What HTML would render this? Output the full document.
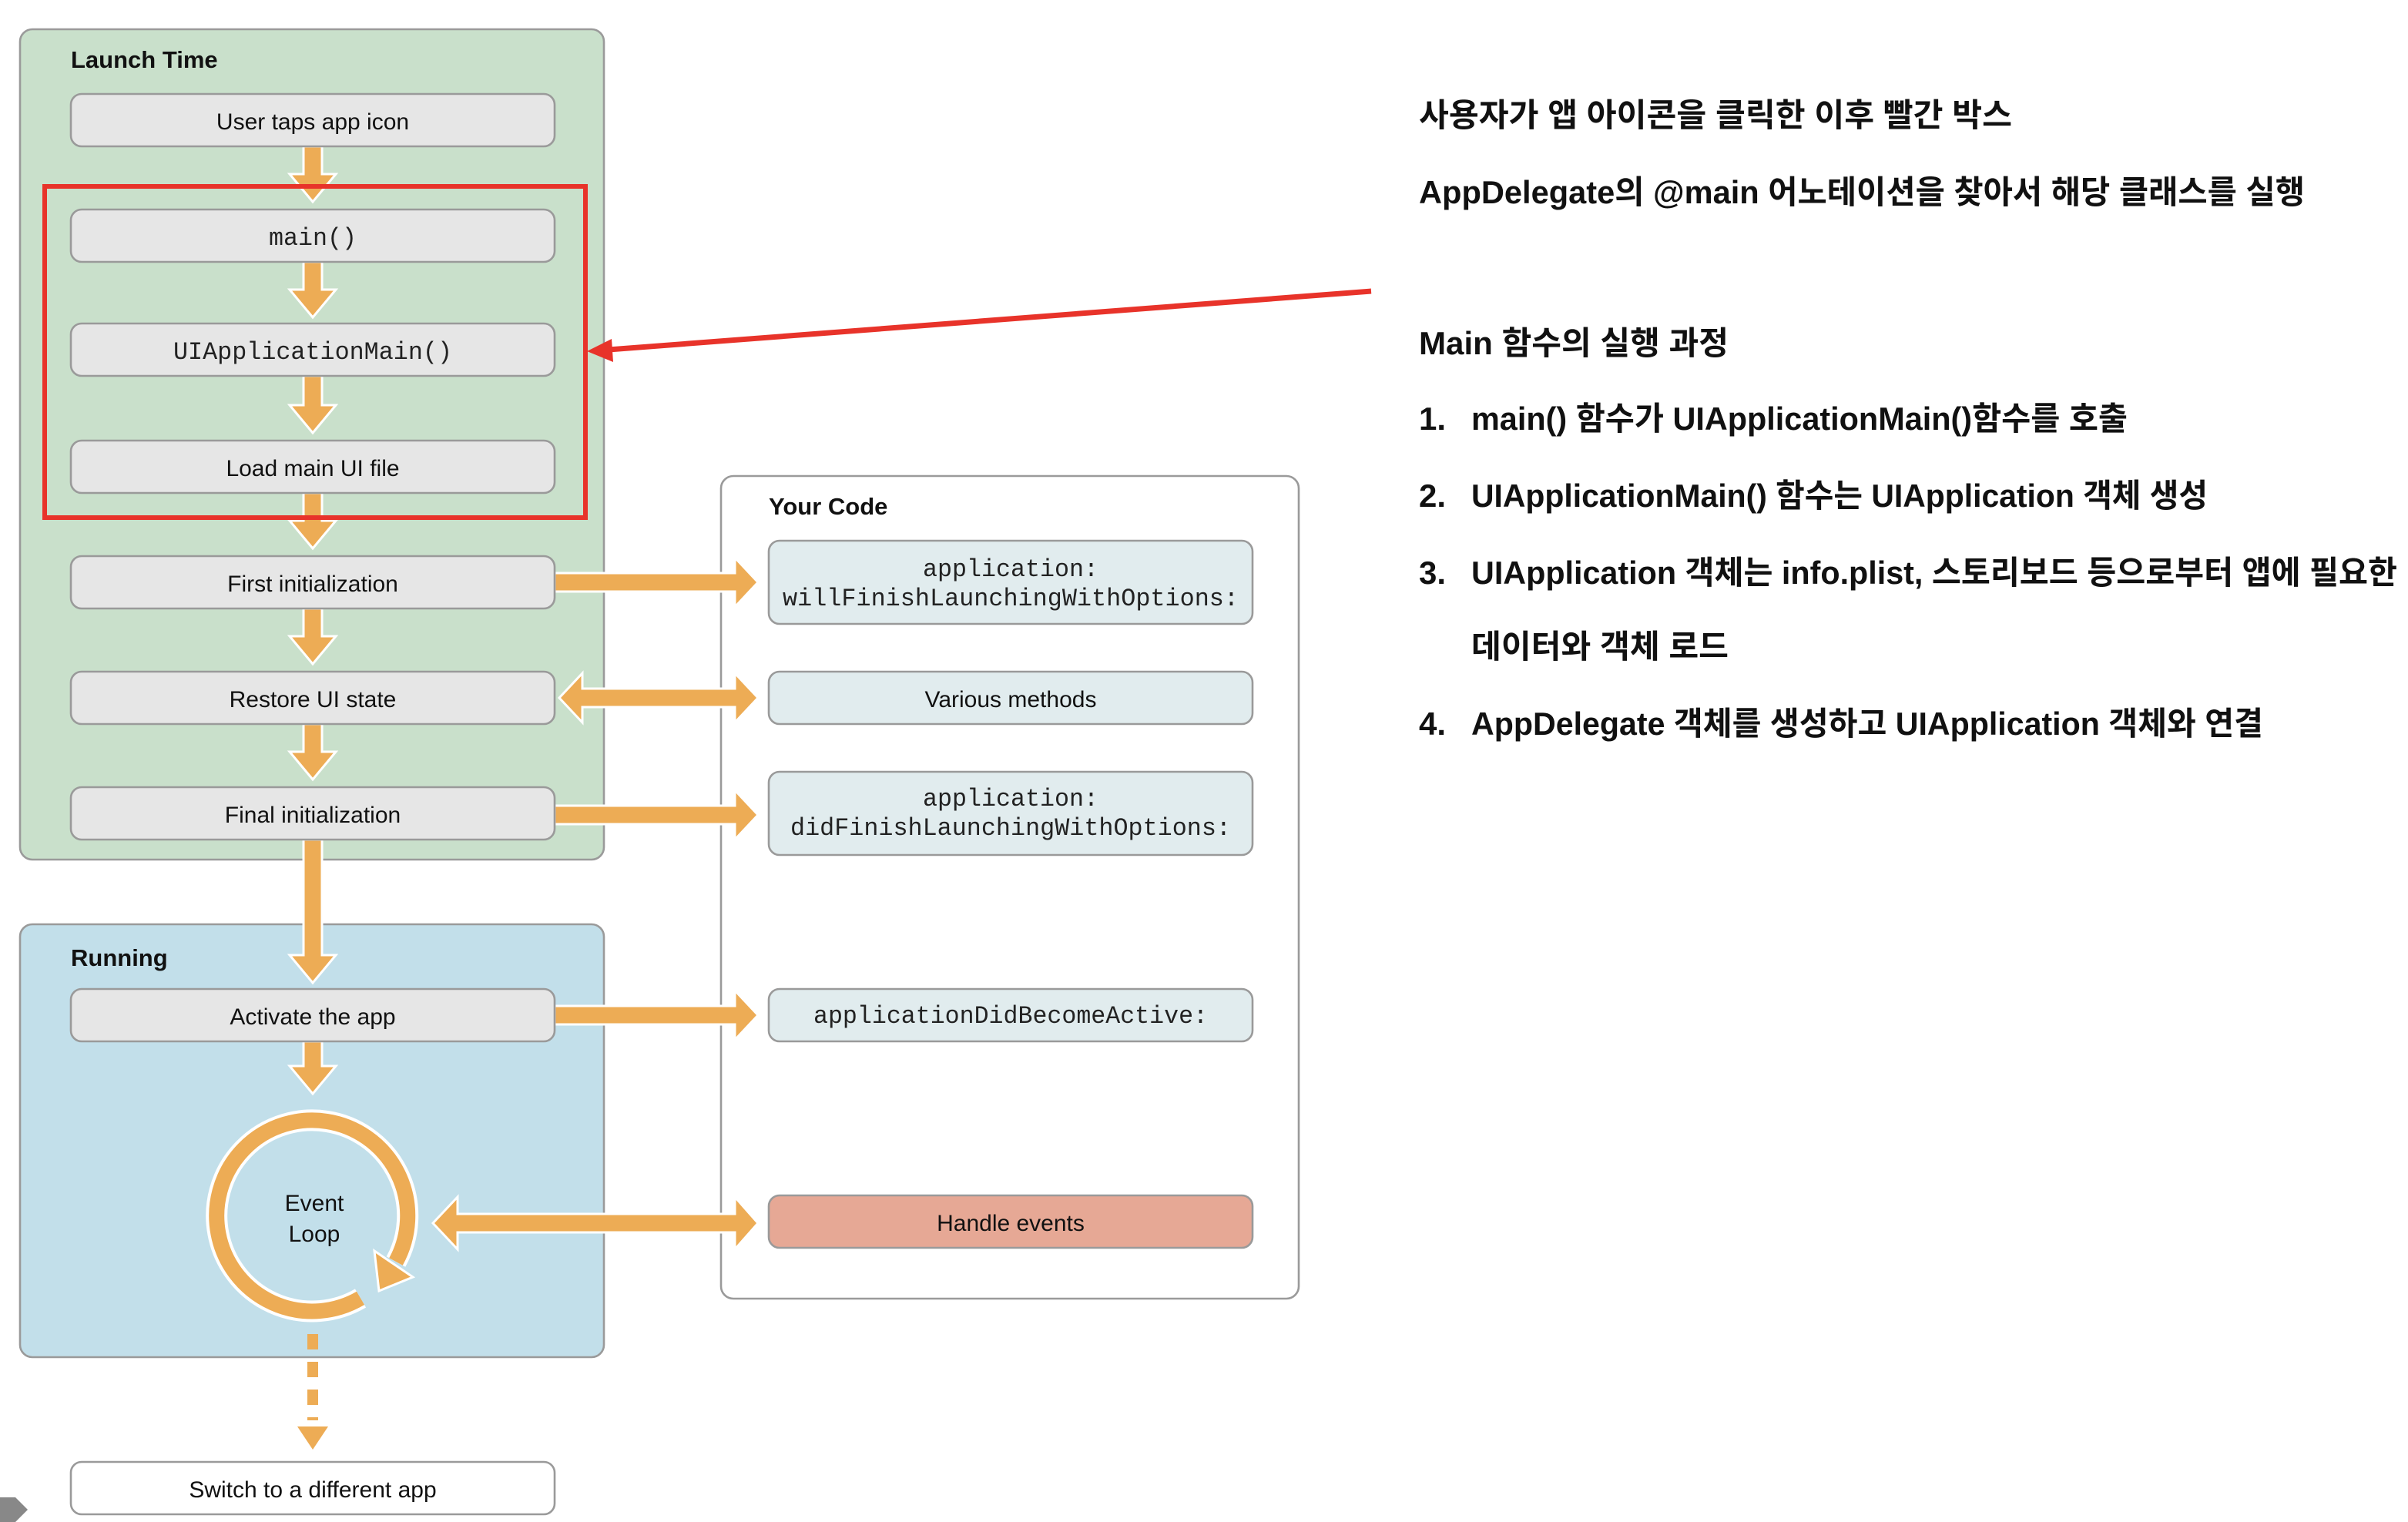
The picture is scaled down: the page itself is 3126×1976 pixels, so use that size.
<!DOCTYPE html>
<html><head><meta charset="utf-8"><style>
html,body{margin:0;padding:0;background:#fff;width:3126px;height:1976px;overflow:hidden}
svg{display:block}
.s{font-family:"Liberation Sans",Arial,sans-serif;font-size:15px;fill:#111}
.b{font-family:"Liberation Sans",Arial,sans-serif;font-size:15.5px;font-weight:bold;fill:#111}
.m{font-family:"Liberation Mono",monospace;font-size:16px;fill:#222}
.k{font-family:"Liberation Sans","Noto Sans CJK KR",sans-serif;font-size:21px;font-weight:bold;fill:#111}
.box{fill:#e6e6e6;stroke:#9a9a9a;stroke-width:1.3}
.cb{fill:#e1ecee;stroke:#9a9a9a;stroke-width:1.3}
.ar{fill:#edac55;stroke:#fff;stroke-width:1.5}
</style></head><body>
<svg width="3126" height="1976" viewBox="0 0 1563 988" xmlns="http://www.w3.org/2000/svg">
<rect x="13" y="19" width="379" height="539" rx="8" fill="#c9e0cb" stroke="#9a9a9a" stroke-width="1.3"/>
<rect x="13" y="600" width="379" height="281" rx="8" fill="#c2dfea" stroke="#9a9a9a" stroke-width="1.3"/>
<rect x="468" y="309" width="375" height="534" rx="8" fill="#fff" stroke="#9a9a9a" stroke-width="1.3"/>
<text class="b" x="46" y="44">Launch Time</text>
<text class="b" x="46" y="627">Running</text>
<text class="b" x="499" y="334">Your Code</text>

<g class="ar">
<polygon points="197,95 209,95 209,113 218,113 203,131 188,113 197,113"/>
<polygon points="197,170 209,170 209,188 218,188 203,206 188,188 197,188"/>
<polygon points="197,244 209,244 209,263 218,263 203,281 188,263 197,263"/>
<polygon points="197,320 209,320 209,338 218,338 203,356 188,338 197,338"/>
<polygon points="197,395 209,395 209,413 218,413 203,431 188,413 197,413"/>
<polygon points="197,470 209,470 209,488 218,488 203,506 188,488 197,488"/>
<polygon points="197,545 209,545 209,620 218,620 203,638 188,620 197,620"/>
<polygon points="197,676 209,676 209,692 218,692 203,710 188,692 197,692"/>
<polygon points="360,372 477,372 477,362 492,378 477,394 477,384 360,384"/>
<polygon points="378,447 477,447 477,437 492,453 477,469 477,459 378,459 378,469 363,453 378,437"/>
<polygon points="360,523 477,523 477,513 492,529 477,545 477,535 360,535"/>
<polygon points="360,653 477,653 477,643 492,659 477,675 477,665 360,665"/>
<polygon points="297,788 477,788 477,777 492,794 477,811 477,800 297,800 297,811 281,794 297,777"/>
</g>
<!-- event loop -->
<path d="M234,842.7 A62,62 0 1 1 257,819" fill="none" stroke="#fff" stroke-width="14"/>
<path d="M234,842.7 A62,62 0 1 1 257,819" fill="none" stroke="#edac55" stroke-width="10"/>
<polygon class="ar" points="246,838 268,829 243,812"/>
<text class="s" x="204" y="786" text-anchor="middle">Event</text>
<text class="s" x="204" y="806" text-anchor="middle">Loop</text>
<line x1="203" y1="866" x2="203" y2="922" stroke="#edac55" stroke-width="7" stroke-dasharray="10,8"/>
<polygon points="193,926 213,926 203,941" fill="#edac55"/>

<rect class="box" x="46" y="61" width="314" height="34" rx="7"/>
<rect class="box" x="46" y="136" width="314" height="34" rx="7"/>
<rect class="box" x="46" y="210" width="314" height="34" rx="7"/>
<rect class="box" x="46" y="286" width="314" height="34" rx="7"/>
<rect class="box" x="46" y="361" width="314" height="34" rx="7"/>
<rect class="box" x="46" y="436" width="314" height="34" rx="7"/>
<rect class="box" x="46" y="511" width="314" height="34" rx="7"/>
<rect class="box" x="46" y="642" width="314" height="34" rx="7"/>
<rect x="46" y="949" width="314" height="34" rx="7" fill="#fff" stroke="#9a9a9a" stroke-width="1.3"/>
<text class="s" x="203" y="84" text-anchor="middle">User taps app icon</text>
<text class="m" x="203" y="159" text-anchor="middle" textLength="57" lengthAdjust="spacingAndGlyphs">main()</text>
<text class="m" x="203" y="233" text-anchor="middle" textLength="181" lengthAdjust="spacingAndGlyphs">UIApplicationMain()</text>
<text class="s" x="203" y="309" text-anchor="middle">Load main UI file</text>
<text class="s" x="203" y="384" text-anchor="middle">First initialization</text>
<text class="s" x="203" y="459" text-anchor="middle">Restore UI state</text>
<text class="s" x="203" y="534" text-anchor="middle">Final initialization</text>
<text class="s" x="203" y="665" text-anchor="middle">Activate the app</text>
<text class="s" x="203" y="972" text-anchor="middle">Switch to a different app</text>

<rect class="cb" x="499" y="351" width="314" height="54" rx="7"/>
<rect class="cb" x="499" y="436" width="314" height="34" rx="7"/>
<rect class="cb" x="499" y="501" width="314" height="54" rx="7"/>
<rect class="cb" x="499" y="642" width="314" height="34" rx="7"/>
<rect x="499" y="776" width="314" height="34" rx="7" fill="#e6a895" stroke="#9a9a9a" stroke-width="1.3"/>
<text class="m" x="656" y="374" text-anchor="middle" textLength="114" lengthAdjust="spacingAndGlyphs">application:</text>
<text class="m" x="656" y="393" text-anchor="middle" textLength="296" lengthAdjust="spacingAndGlyphs">willFinishLaunchingWithOptions:</text>
<text class="s" x="656" y="459" text-anchor="middle">Various methods</text>
<text class="m" x="656" y="523" text-anchor="middle" textLength="114" lengthAdjust="spacingAndGlyphs">application:</text>
<text class="m" x="656" y="542" text-anchor="middle" textLength="286" lengthAdjust="spacingAndGlyphs">didFinishLaunchingWithOptions:</text>
<text class="m" x="656" y="664" text-anchor="middle" textLength="256" lengthAdjust="spacingAndGlyphs">applicationDidBecomeActive:</text>
<text class="s" x="656" y="799" text-anchor="middle">Handle events</text>

<rect x="29" y="121" width="351" height="215" fill="none" stroke="#e8332a" stroke-width="3"/>
<line x1="890" y1="189" x2="395" y2="227" stroke="#e8332a" stroke-width="3.5"/>
<polygon points="381,228 397,220 398,235" fill="#e8332a"/>

<polygon points="0,972 10,972 18,980 10,988 0,988" fill="#888"/>

<text class="k" x="921" y="82" textLength="385" lengthAdjust="spacingAndGlyphs">사용자가 앱 아이콘을 클릭한 이후 빨간 박스</text>
<text class="k" x="921" y="132" textLength="575" lengthAdjust="spacingAndGlyphs">AppDelegate의 @main 어노테이션을 찾아서 해당 클래스를 실행</text>
<text class="k" x="921" y="230" textLength="201" lengthAdjust="spacingAndGlyphs">Main 함수의 실행 과정</text>
<text class="k" x="921" y="279">1.</text>
<text class="k" x="955" y="279" textLength="426" lengthAdjust="spacingAndGlyphs">main() 함수가 UIApplicationMain()함수를 호출</text>
<text class="k" x="921" y="329">2.</text>
<text class="k" x="955" y="329" textLength="478" lengthAdjust="spacingAndGlyphs">UIApplicationMain() 함수는 UIApplication 객체 생성</text>
<text class="k" x="921" y="379">3.</text>
<text class="k" x="955" y="379" textLength="601" lengthAdjust="spacingAndGlyphs">UIApplication 객체는 info.plist, 스토리보드 등으로부터 앱에 필요한</text>
<text class="k" x="955" y="427" textLength="167" lengthAdjust="spacingAndGlyphs">데이터와 객체 로드</text>
<text class="k" x="921" y="477">4.</text>
<text class="k" x="955" y="477" textLength="514" lengthAdjust="spacingAndGlyphs">AppDelegate 객체를 생성하고 UIApplication 객체와 연결</text>
</svg>
</body></html>
